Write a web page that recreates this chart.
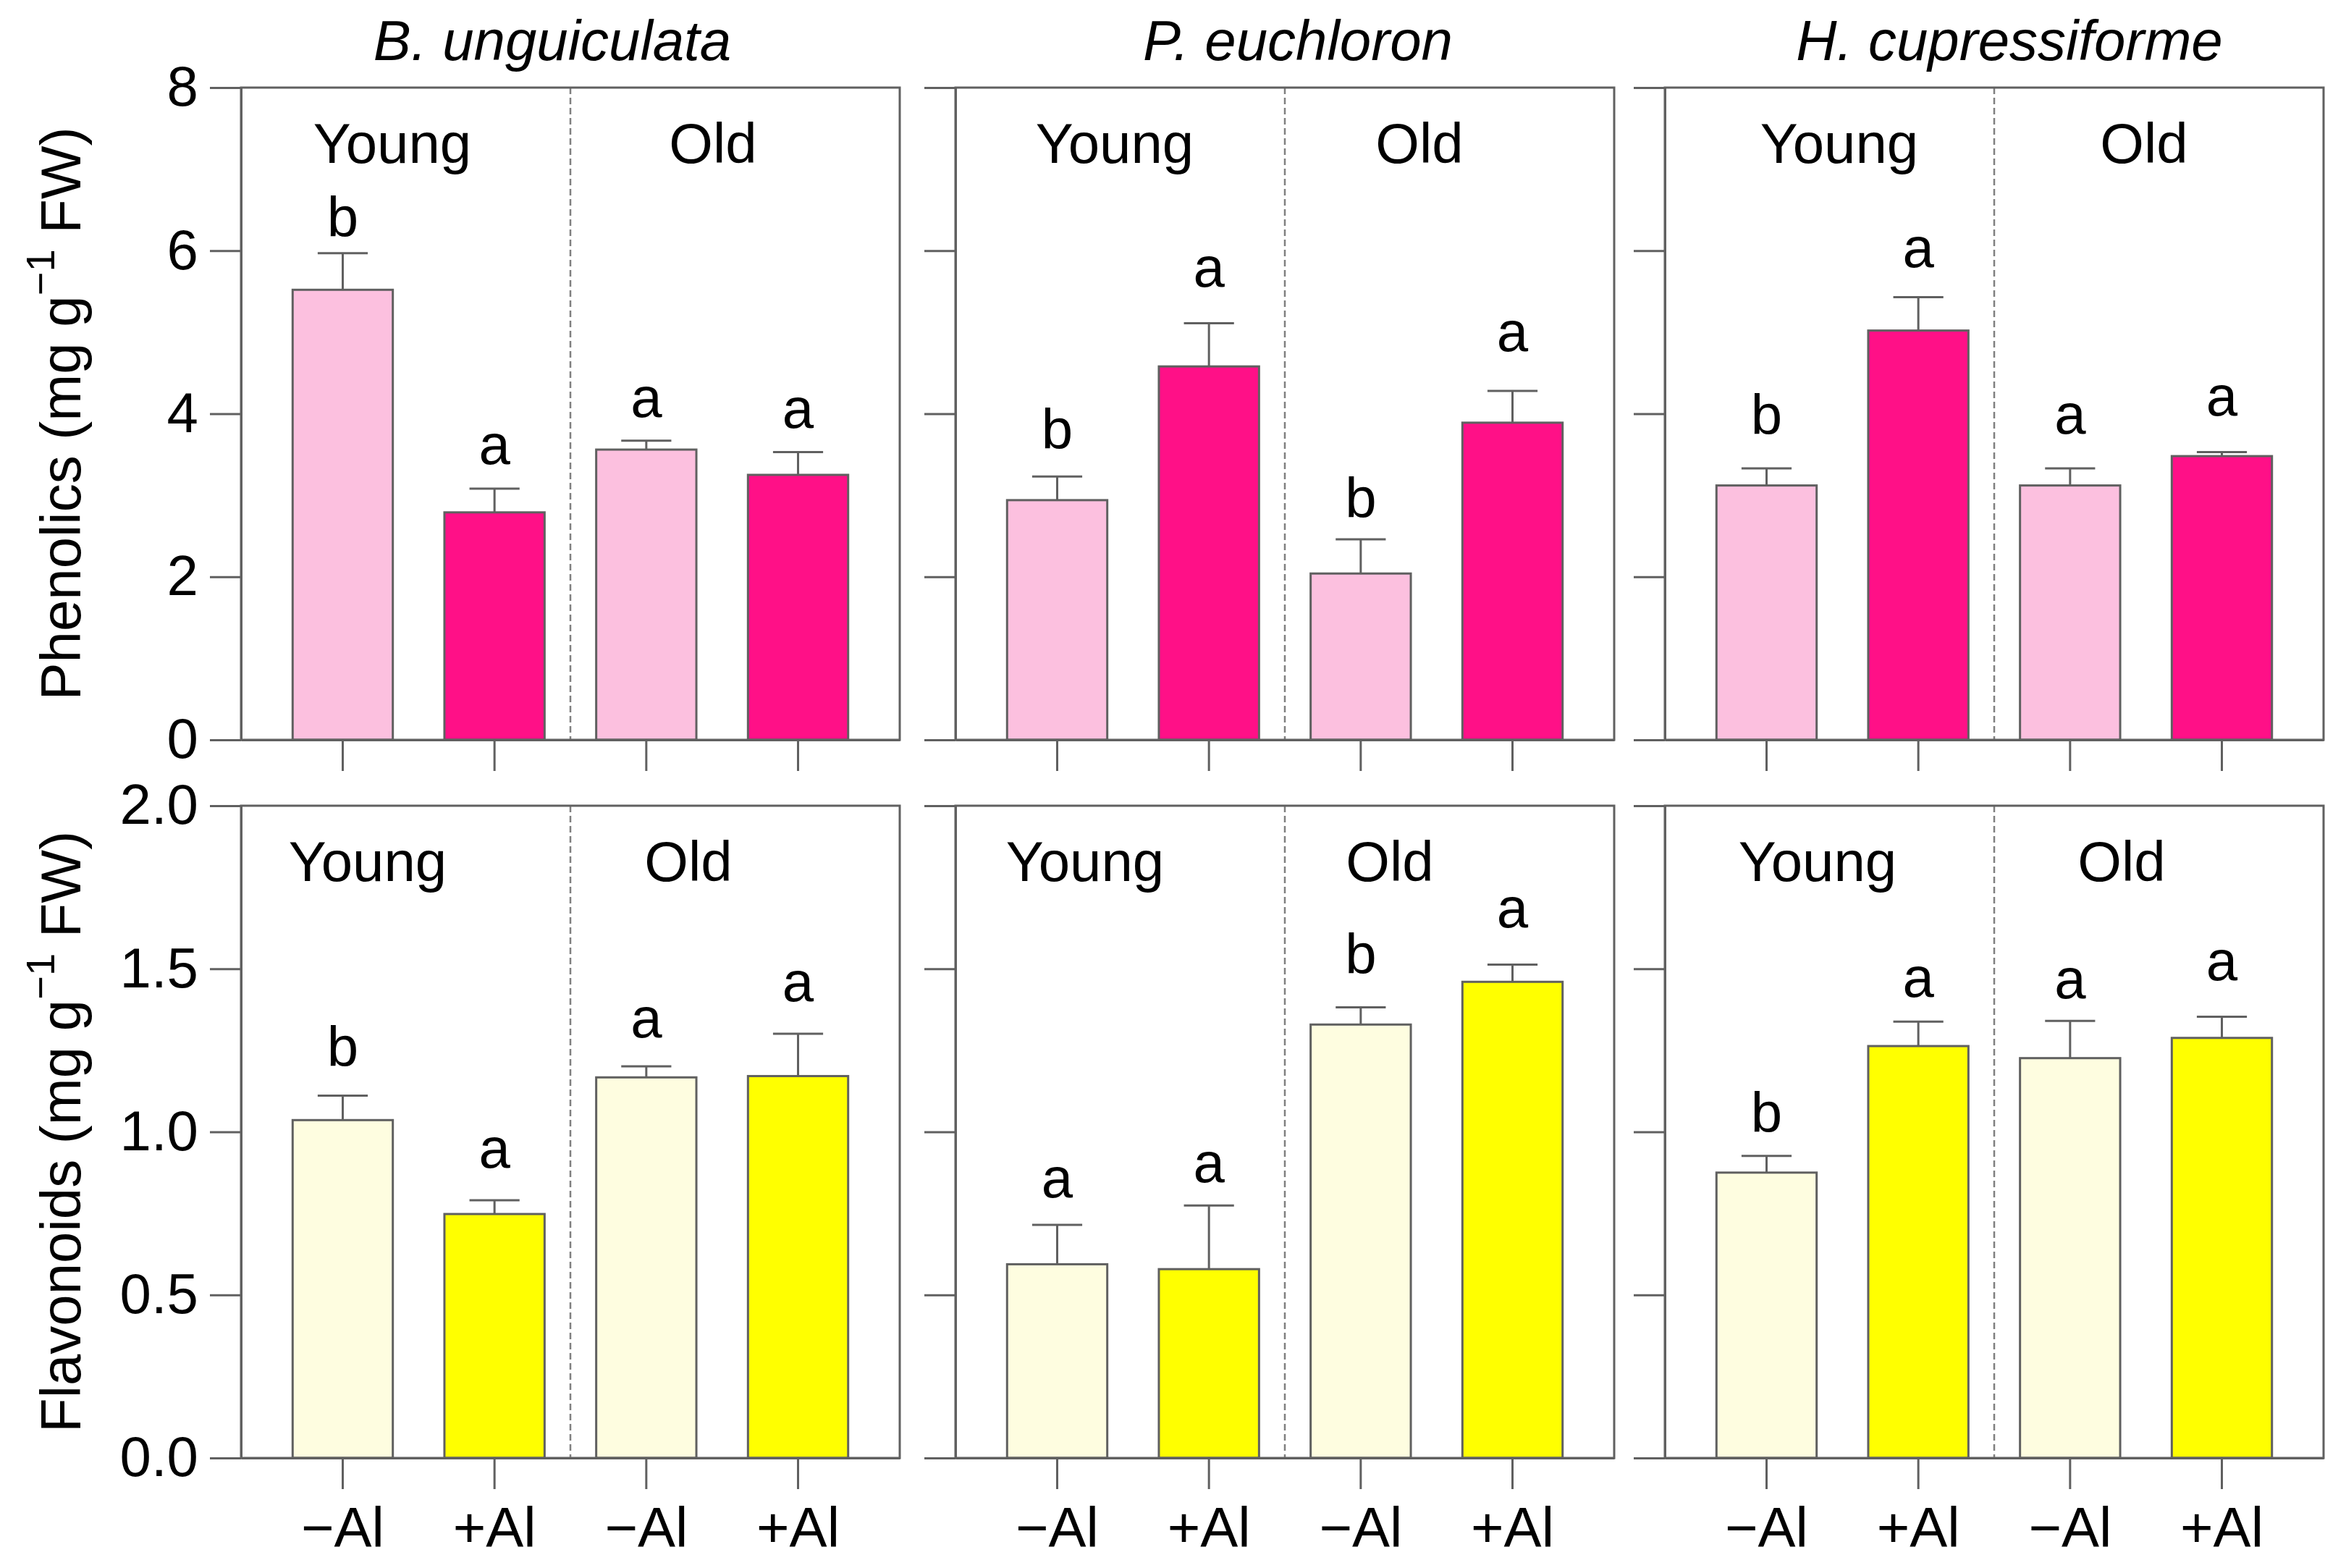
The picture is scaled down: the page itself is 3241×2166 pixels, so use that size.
<!DOCTYPE html>
<html>
<head>
<meta charset="utf-8">
<script src="https://cdn.jsdelivr.net/npm/d3@7"></script>
<style>
body { margin: 0; background: #fff; }
svg { display: block; font-family: "Liberation Sans", Arial, sans-serif; }
</style>
</head>
<body>
<div id="chart"></div>
<script>
// data
var species = ["B. unguiculata", "P. euchloron", "H. cupressiforme"];
var treatments = ["\u2212Al", "+Al", "\u2212Al", "+Al"];
var ages = ["Young", "Old"];

var phenolicsMean = [[5.52, 2.79, 3.56, 3.25], [2.94, 4.58, 2.04, 3.89], [3.12, 5.02, 3.12, 3.48]];
var phenolicsErr = [[0.45, 0.29, 0.11, 0.28], [0.29, 0.53, 0.42, 0.39], [0.21, 0.41, 0.21, 0.05]];
var phenolicsLetters = [["b", "a", "a", "a"], ["b", "a", "b", "a"], ["b", "a", "a", "a"]];
var phenolicsLetterY = [[6.17, 3.38, 3.96, 3.83], [3.57, 5.56, 2.73, 4.77], [3.75, 5.80, 3.76, 3.98]];
var phenolicsTicks = [0, 2, 4, 6, 8];

var flavonoidsMean = [[1.036, 0.748, 1.167, 1.171], [0.594, 0.579, 1.329, 1.460], [0.875, 1.263, 1.226, 1.288]];
var flavonoidsErr = [[0.075, 0.042, 0.034, 0.13], [0.121, 0.195, 0.053, 0.053], [0.051, 0.075, 0.114, 0.065]];
var flavonoidsLetters = [["b", "a", "a", "a"], ["a", "a", "b", "a"], ["b", "a", "a", "a"]];
var flavonoidsLetterY = [[1.20, 0.89, 1.29, 1.40], [0.80, 0.845, 1.485, 1.626], [1.00, 1.415, 1.41, 1.465]];
var flavonoidsTicks = [0, 0.5, 1.0, 1.5, 2.0];

// layout
var svgWidth = 3241;
var svgHeight = 2166;
var panelLeft = [333, 1320, 2300];
var panelWidth = 910;
var rowTop = [121, 1113];
var panelHeight = 901;
var tickLen = 43;
var fontSize = 78;
var lineColor = "#606060";
var titleDx = [-25, 18, 21];
// Young / Old label centres, offset from panel left
var groupLabelX = [
    [[209, 652], [220, 641], [241, 662]],
    [[175, 618], [179, 600], [211, 631]]
];

var rows = [
    {
        title: "Phenolics",
        mean: phenolicsMean,
        err: phenolicsErr,
        letters: phenolicsLetters,
        letterY: phenolicsLetterY,
        ticks: phenolicsTicks,
        fmt: d3.format("d"),
        domain: [0, 8],
        colors: ["#fcc0df", "#ff1087"]
    },
    {
        title: "Flavonoids",
        mean: flavonoidsMean,
        err: flavonoidsErr,
        letters: flavonoidsLetters,
        letterY: flavonoidsLetterY,
        ticks: flavonoidsTicks,
        fmt: d3.format(".1f"),
        domain: [0, 2],
        colors: ["#fefde0", "#ffff00"]
    }
];

var svg = d3
.select("#chart")
.append("svg")
.attr("width", svgWidth)
.attr("height", svgHeight);

svg.append("rect")
.attr("width", svgWidth)
.attr("height", svgHeight)
.attr("fill", "#fff");

var x = d3
.scaleBand()
.domain(d3.range(treatments.length))
.range([0, panelWidth])
.paddingInner(0.34)
.paddingOuter(0.34);

function styleAxis(g) {
    g.attr("color", lineColor)
    .attr("font-size", fontSize)
    .attr("font-family", "Liberation Sans, Arial, sans-serif");
    g.selectAll("line, path").attr("stroke-width", 3);
    g.selectAll("text").attr("fill", "#000");
}

rows.forEach(function(row, r) {
    var y = d3
    .scaleLinear()
    .domain(row.domain)
    .range([panelHeight, 0]);

    species.forEach(function(sp, p) {
        var g = svg
        .append("g")
        .attr("transform", "translate(" + panelLeft[p] + "," + rowTop[r] + ")");

        // bars
        g.selectAll("rect.bar")
        .data(row.mean[p])
        .join("rect")
        .attr("class", "bar")
        .attr("x", function(d, i) { return x(i); })
        .attr("y", function(d) { return y(d); })
        .attr("width", x.bandwidth())
        .attr("height", function(d) { return y(0) - y(d); })
        .attr("fill", function(d, i) { return row.colors[i % 2]; })
        .attr("stroke", lineColor)
        .attr("stroke-width", 3);

        // error bars (upper only)
        var eb = g.selectAll("g.err")
        .data(row.mean[p])
        .join("g")
        .attr("class", "err")
        .attr("stroke", lineColor)
        .attr("stroke-width", 3);

        eb.append("line")
        .attr("x1", function(d, i) { return x(i) + x.bandwidth() / 2; })
        .attr("x2", function(d, i) { return x(i) + x.bandwidth() / 2; })
        .attr("y1", function(d) { return y(d); })
        .attr("y2", function(d, i) { return y(d + row.err[p][i]); });

        eb.append("line")
        .attr("x1", function(d, i) { return x(i) + x.bandwidth() / 4; })
        .attr("x2", function(d, i) { return x(i) + x.bandwidth() * 3 / 4; })
        .attr("y1", function(d, i) { return y(d + row.err[p][i]); })
        .attr("y2", function(d, i) { return y(d + row.err[p][i]); });

        // significance letters
        g.selectAll("text.letter")
        .data(row.letters[p])
        .join("text")
        .attr("class", "letter")
        .attr("x", function(d, i) { return x(i) + x.bandwidth() / 2; })
        .attr("y", function(d, i) { return y(row.letterY[p][i]); })
        .attr("text-anchor", "middle")
        .attr("font-size", fontSize)
        .text(function(d) { return d; });

        // Young / Old divider
        g.append("line")
        .attr("x1", panelWidth / 2)
        .attr("x2", panelWidth / 2)
        .attr("y1", 0)
        .attr("y2", panelHeight)
        .attr("stroke", "#808080")
        .attr("stroke-width", 2.5)
        .attr("stroke-dasharray", "9,5");

        g.selectAll("text.age")
        .data(ages)
        .join("text")
        .attr("class", "age")
        .attr("x", function(d, k) { return groupLabelX[r][p][k]; })
        .attr("y", 104)
        .attr("text-anchor", "middle")
        .attr("font-size", fontSize)
        .text(function(d) { return d; });

        // frame
        g.append("rect")
        .attr("width", panelWidth)
        .attr("height", panelHeight)
        .attr("fill", "none")
        .attr("stroke", lineColor)
        .attr("stroke-width", 3);

        var yAxis = d3
        .axisLeft(y)
        .tickValues(row.ticks)
        .tickSize(tickLen)
        .tickSizeOuter(0)
        .tickPadding(16)
        .tickFormat(p === 0 ? row.fmt : "");

        g.append("g").call(yAxis).call(styleAxis);

        var xAxis = d3
        .axisBottom(x)
        .tickSize(tickLen)
        .tickSizeOuter(0)
        .tickPadding(25)
        .tickFormat(r === 1 ? function(d) { return treatments[d]; } : "");

        g.append("g")
        .attr("transform", "translate(0," + panelHeight + ")")
        .call(xAxis)
        .call(styleAxis);

        if (r === 0) {
            svg.append("text")
            .attr("x", panelLeft[p] + panelWidth / 2 + titleDx[p])
            .attr("y", 83)
            .attr("text-anchor", "middle")
            .attr("font-size", fontSize)
            .attr("font-style", "italic")
            .text(sp);
        }

        if (p === 0) {
            var lab = svg.append("text")
            .attr("transform", "translate(111," + (rowTop[r] + panelHeight / 2) + ")rotate(-90)")
            .attr("text-anchor", "middle")
            .attr("font-size", fontSize);
            lab.append("tspan").text(row.title + " (mg g");
            lab.append("tspan").attr("dy", -36).attr("font-size", 56).text("\u22121");
            lab.append("tspan").attr("dy", 36).text(" FW)");
        }
    });
});
</script>
</body>
</html>
